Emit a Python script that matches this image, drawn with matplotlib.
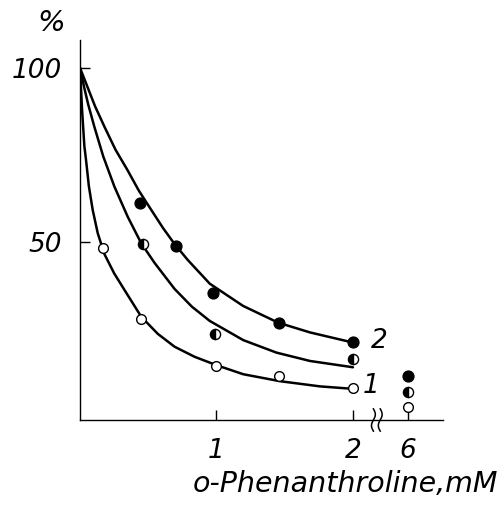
import numpy as np
import matplotlib
matplotlib.use("Agg")
import matplotlib.pyplot as plt

# ---- data ----
# measured points (x in mM, y in %)
open_x = [0.17, 0.45, 1.0, 1.46, 2.0, 6.0]
open_y = [48.2, 27.9, 14.5, 11.6, 8.1, 2.7]

half_x = [0.46, 0.99, 2.0, 6.0]
half_y = [49.3, 23.6, 16.4, 7.0]

filled_x = [0.44, 0.70, 0.975, 1.46, 2.0, 6.0]
filled_y = [61.1, 48.9, 35.3, 26.8, 21.2, 11.5]

# drawn curves
curve1_x = [0, 0.015, 0.032, 0.044, 0.065, 0.093, 0.13, 0.179, 0.25, 0.326, 0.449, 0.57, 0.693, 0.84, 1.0, 1.196, 1.465, 1.76, 2.0]
curve1_y = [100, 88, 77.5, 73.6, 66, 59.2, 52.5, 46.5, 41, 36.2, 28.5, 23.6, 19.9, 17, 14.6, 12.0, 10.0, 8.5, 7.8]

curve_mid_x = [0, 0.03, 0.06, 0.105, 0.17, 0.252, 0.35, 0.449, 0.546, 0.693, 0.82, 0.951, 1.196, 1.44, 1.686, 2.0]
curve_mid_y = [100, 94.5, 89.5, 83.1, 74.6, 65.9, 57.2, 49.6, 44.0, 36.5, 31.4, 27.3, 21.8, 18.2, 15.8, 14.0]

curve2_x = [0, 0.05, 0.11, 0.179, 0.26, 0.35, 0.43, 0.522, 0.61, 0.693, 0.79, 0.951, 1.196, 1.453, 1.686, 2.0]
curve2_y = [100, 95, 89, 83.1, 76.5, 70.5, 64.8, 59.2, 53.9, 49.4, 44.8, 38.0, 31.6, 26.8, 24.0, 21.1]

tick_values = [1, 2, 6]
tick_labels = ["1", "2", "6"]
ytick_values = [50, 100]
ytick_labels = ["50", "100"]
curve_labels = ["1", "2"]

BREAK_POS = 2.40  # display position of 6 mM after the axis break


def to_axis(xs):
    xs = np.asarray(xs, dtype=float)
    return np.where(xs <= 2.0, xs, BREAK_POS + (xs - 6.0) * 0.1)


FONT = dict(family=["DejaVu Sans"], style="italic")

fig = plt.figure(figsize=(5.03, 5.05), dpi=100)
ax = fig.add_axes([80 / 503, (505 - 420) / 505, (443 - 80) / 503, (420 - 40) / 505])
ax.set_xlim(0, 2.66)
ax.set_ylim(-1.15, 108)

lw = 1.8
for cx, cy in ((curve1_x, curve1_y), (curve_mid_x, curve_mid_y), (curve2_x, curve2_y)):
    ax.plot(cx, cy, color="black", lw=lw, solid_capstyle="round", solid_joinstyle="round")

ms = 7.8
ax.plot(to_axis(open_x), open_y, "o", ms=ms - 0.8, mfc="white", mec="black", mew=1.0, zorder=5)
ax.plot(to_axis(half_x), half_y, "o", ms=ms - 0.5, fillstyle="left", mfc="black",
        markerfacecoloralt="white", mec="black", mew=1.0, zorder=5)
ax.plot(to_axis(filled_x), filled_y, "o", ms=ms, mfc="black", mec="black", zorder=5)

# spines
for s in ["top", "right"]:
    ax.spines[s].set_visible(False)
ax.spines["left"].set_linewidth(1.0)
ax.spines["bottom"].set_linewidth(1.0)

ax.set_xticks(to_axis(tick_values))
ax.set_xticklabels(tick_labels, fontsize=19, **FONT)
ax.set_yticks(ytick_values)
ax.set_yticklabels(ytick_labels, fontsize=19, **FONT)
ax.tick_params(axis="both", direction="in", length=7, width=1.0)
ax.tick_params(axis="x", pad=13)
ax.tick_params(axis="y", pad=13)

# axis break marks
for dx in (0.0, 0.05):
    t = np.linspace(-1, 1, 30)
    xb = 2.15 + dx + 0.014 * np.sin(t * np.pi)
    yb = -1.15 + 3.2 * t
    ax.plot(xb, yb, color="black", lw=1.1, clip_on=False)

# curve labels
ax.text(2.13, 21.5, curve_labels[1], fontsize=19, va="center", ha="left", **FONT)
ax.text(2.07, 8.5, curve_labels[0], fontsize=19, va="center", ha="left", **FONT)

# axis texts
fig.text(51 / 503, 1 - 23 / 505, "%", fontsize=21, ha="center", va="center", **FONT)
fig.text(345 / 503, 1 - 484 / 505, "o-Phenanthroline,mM", fontsize=20.5, ha="center", va="center", **FONT)

fig.savefig("out.png", dpi=100, facecolor="white")
